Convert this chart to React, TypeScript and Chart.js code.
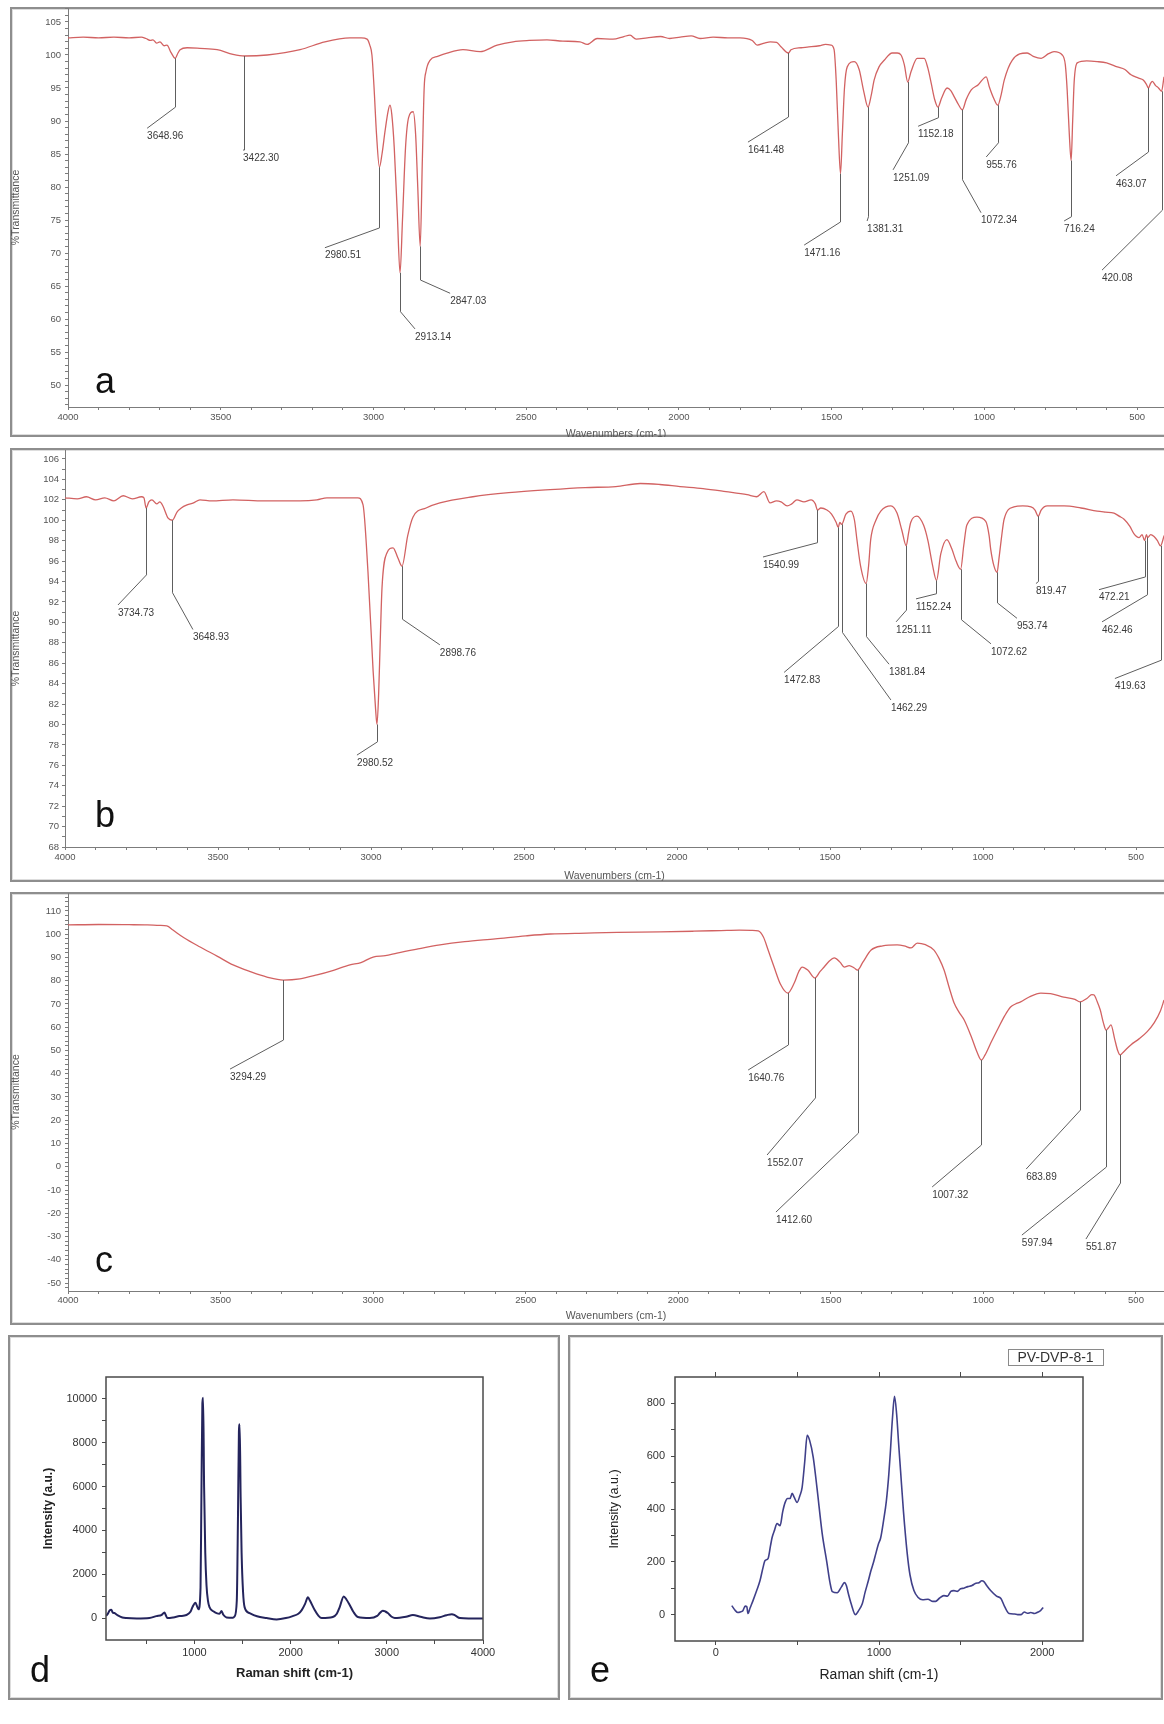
import React, { useEffect, useRef } from "react";
import { Chart, registerables } from "chart.js";

Chart.register(...registerables);
const FONT = '"Liberation Sans", Arial, Helvetica, sans-serif';
Chart.defaults.font.family = FONT;

// ---------------- Panel a (FTIR) ----------------
const A_WN = [4000,3950,3900,3850,3800,3760,3745,3730,3722,3710,3699,3685,3676,3663,3649,3640,3633,3610,3568,3512,3460,3422,3348,3240,3159,3077,3040,3021,3012,3005,2998,2990,2980.5,2972,2962,2952,2946,2940,2932,2922,2913,2905,2895,2885,2870,2862,2855,2847,2840,2834,2828,2815,2790,2759,2707,2651,2595,2543,2490,2432,2380,2324,2300,2268,2216,2180,2160,2140,2104,2060,2030,1996,1960,1931,1888,1840,1800,1760,1744,1720,1701,1680,1665,1641.5,1633,1600,1580,1540,1520,1502,1492,1485,1478,1471,1465,1458,1449,1426,1410,1395,1381,1370,1361,1345,1328,1302,1285,1273,1262,1251,1240,1220,1197,1185,1174,1163,1152,1140,1122,1110,1099,1085,1072,1060,1043,1020,994,984,970,956,945,935,909,860,840,814,790,772,745,735,729,722,716,711,706,696,665,631,600,565,540,520,495,480,470,463,456,450,440,430,420,412];
const A_T = [102.6,102.7,102.6,102.7,102.6,102.7,102.5,102.2,102.3,101.8,102.0,101.4,101.5,100.4,99.5,100.3,100.8,101.1,101.0,100.8,100.1,99.85,100.0,100.8,102.0,102.6,102.6,102.4,101.5,100,95,88,83,85,88.5,91.5,92.4,91,86,76,67,75,86,90.5,91.4,88,80,71,84,95,97.5,99.2,99.8,100.3,100.8,100.5,101.5,102.0,102.2,102.3,102.1,102.0,101.6,102.5,102.4,102.8,103.0,102.4,102.6,102.8,102.5,102.7,102.9,102.5,102.7,102.6,102.6,102.2,101.5,101.8,102.0,101.9,101.2,100.3,100.8,101.1,101.2,101.4,101.6,101.5,100.8,96,88,82,88,95,98.2,99,97.8,94.5,92.1,94,96.2,98.2,99.2,100.3,100.3,100.0,98.5,95.9,97.5,99.5,99.5,98,95.7,93.3,92.1,93.5,95.0,94.6,93.7,92.5,91.7,93.2,94.7,95.5,96.7,95.2,93.5,92.4,94,96.2,99.2,100.3,99.8,99.5,100.2,100.5,100,98.5,94.7,88,84,90,96,98.8,99.1,99.0,98.8,98.2,97.8,97.0,96.5,96.2,95.6,95.0,95.7,96.0,95.4,95,94.5,96.7];
const A_YLABELS = [105,100,95,90,85,80,75,70,65,60,55,50];
// [label, %T at peak, %T at knee, wavenumber at label, %T at label]
const A_PEAKS: [string, number, number, number, number][] = [
  ["3648.96", 99.5, 92.1, 3741, 88.9],
  ["3422.30", 99.85, 85.6, 3427, 85.6],
  ["2980.51", 83, 73.8, 3159, 70.8],
  ["2913.14", 67, 61.1, 2864, 58.5],
  ["2847.03", 71, 65.9, 2749, 63.9],
  ["1641.48", 100.3, 90.6, 1774, 86.8],
  ["1471.16", 82, 74.7, 1590, 71.2],
  ["1381.31", 92.1, 75.5, 1384, 74.85],
  ["1251.09", 95.9, 86.7, 1299, 82.6],
  ["1152.18", 92.1, 90.5, 1217, 89.2],
  ["1072.34", 91.7, 81.1, 1011, 76.1],
  ["955.76", 92.4, 86.7, 994, 84.55],
  ["716.24", 84, 75.5, 739, 74.85],
  ["463.07", 95, 85.3, 569, 81.7],
  ["420.08", 94.5, 76.5, 615, 67.4],
];

// ---------------- Panel b (FTIR) ----------------
const B_WN = [4000,3960,3930,3900,3870,3840,3810,3780,3750,3742,3735,3726,3716,3700,3690,3680,3663,3649,3634,3620,3601,3580,3559,3520,3451,3350,3232,3177,3144,3043,3026,3010,2993,2985,2980.5,2975,2970,2964,2948,2928,2912,2898.8,2880,2863,2820,2775,2667,2550,2415,2300,2200,2120,2056,1990,1915,1840,1771,1740,1716,1696,1675,1660,1640,1625,1608,1585,1562,1548,1541,1530,1510,1495,1480,1473,1468,1462,1448,1432,1420,1412,1400,1382,1374,1367,1350,1334,1301,1281,1265,1251,1243,1236,1216,1194,1180,1165,1152,1138,1118,1102,1088,1073,1063,1053,1020,991,980,975,964,954,948,940,931,899,870,843,830,819.5,810,790,735,680,627,600,572,555,539,520,507,490,480,472,466,462,452,441,430,420,408];
const B_T = [102.2,102.1,102.3,102.0,102.2,101.9,102.4,102.1,102.3,102.2,101.2,101.8,102.0,101.6,101.8,101.4,100.2,100.0,100.8,101.2,101.5,101.7,102.0,101.9,102.0,101.9,101.9,102.0,102.2,102.2,101.5,95,85.2,81.5,80,83,88,93.4,96.8,97.3,96.3,95.5,98.5,100.3,101.2,101.7,102.3,102.7,103,103.2,103.3,103.6,103.5,103.3,103.1,102.8,102.5,102.3,102.8,101.7,101.9,101.8,101.4,101.6,102.0,101.8,102.0,101.6,101.0,101.2,101.0,100.6,99.8,99.3,99.8,99.6,100.6,100.9,100,98.1,95.5,93.8,95.5,98.1,100,100.9,101.4,100.7,99,97.5,98.8,99.8,100.4,99.5,98,95.6,94.1,96.7,98.1,97.2,96,95.2,97.5,99.5,100.3,99.9,98.5,97.2,95.5,94.9,96.2,98.2,100.1,101.3,101.4,101.3,101,100.4,101,101.4,101.4,101.2,100.9,100.8,100.7,100.4,100.1,99.4,98.7,98.3,98.6,98.0,98.6,98.3,98.6,98.4,98,97.5,98.5];
const B_YLABELS = [106,104,102,100,98,96,94,92,90,88,86,84,82,80,78,76,74,72,70,68];
const B_PEAKS: [string, number, number, number, number][] = [
  ["3734.73", 101.2, 94.65, 3827, 91.7],
  ["3648.93", 100, 92.9, 3582, 89.3],
  ["2980.52", 80, 78.3, 3046, 77.0],
  ["2898.76", 95.5, 90.3, 2775, 87.8],
  ["1540.99", 101, 97.8, 1719, 96.4],
  ["1472.83", 99.3, 89.6, 1650, 85.1],
  ["1462.29", 99.6, 89.0, 1301, 82.4],
  ["1381.84", 93.8, 88.6, 1307, 85.9],
  ["1251.11", 97.5, 91.2, 1284, 90.05],
  ["1152.24", 94.1, 92.8, 1219, 92.3],
  ["1072.62", 95.2, 90.25, 974, 87.9],
  ["953.74", 94.9, 91.9, 889, 90.4],
  ["819.47", 100.4, 94.0, 827, 93.8],
  ["472.21", 98.0, 94.45, 621, 93.2],
  ["462.46", 98.3, 92.7, 611, 90.05],
  ["419.63", 97.5, 86.3, 569, 84.5],
];

// ---------------- Panel c (FTIR) ----------------
const C_WN = [4000,3900,3800,3740,3700,3676,3656,3620,3567,3510,3459,3400,3348,3294,3240,3184,3130,3076,3040,3000,2960,2922,2860,2781,2700,2600,2500,2420,2300,2200,2060,1950,1860,1800,1760,1738,1721,1705,1686,1665,1641,1620,1605,1594,1575,1552,1535,1522,1505,1489,1470,1456,1440,1423,1412.6,1395,1368,1330,1283,1260,1237,1217,1190,1162,1145,1129,1112,1096,1080,1063,1040,1020,1007,995,976,950,930,911,895,878,850,812,780,737,700,684,660,645,638,627,617,607,598,590,582,570,560,552,540,517,490,464,440,420,408];
const C_T = [104,104.2,104.1,104,103.8,103.6,101.8,98.5,94.5,90.5,86.8,83.8,81.6,80.3,80.8,82.5,84.5,86.8,87.8,90.2,90.8,91.9,93.5,95.4,96.8,98,99.3,100.1,100.5,100.8,101,101.3,101.6,101.8,101.7,101.4,98.8,93,85.9,78.5,74.7,79,84,85.9,84.5,81.2,84,85.9,88.5,89.8,88,85.9,86.5,85.5,84.6,88,93.2,95,95.4,95,94.1,96.2,95.5,93.2,89.5,84.6,77,70.4,66.5,63.1,56,49,45.9,48,53.2,60,65,68.7,70,70.9,73,74.7,74.5,73,72,70.9,72.5,74,73.9,71,67.4,62,58.8,59.8,61,55,50,48.1,49.5,52.4,55,58,62,67,71.7];
const C_YLABELS = [110,100,90,80,70,60,50,40,30,20,10,0,-10,-20,-30,-40,-50];
const C_PEAKS: [string, number, number, number, number][] = [
  ["3294.29", 80.3, 54.5, 3469, 42.0],
  ["1640.76", 74.7, 52.4, 1771, 41.6],
  ["1552.07", 81.2, 29.6, 1709, 5.05],
  ["1412.60", 84.6, 14.5, 1680, -19.5],
  ["1007.32", 45.9, 9.35, 1168, -8.7],
  ["683.89", 70.9, 24.4, 860, -1.0],
  ["597.94", 58.8, -0.1, 874, -29.4],
  ["551.87", 48.1, -7, 664, -31.1],
];

const FTIR_XLABELS = [4000, 3500, 3000, 2500, 2000, 1500, 1000, 500];

// ---------------- Panel d (Raman) ----------------
const D_SHIFT = [80,100,118,135,150,167,198,250,292,400,531,604,660,688,700,719,780,844,917,960,979,1010,1030,1042,1063,1072,1082,1090,1100,1112,1125,1140,1156,1200,1229,1260,1281,1300,1333,1400,1417,1440,1452,1462,1470,1480,1490,1505,1521,1573,1650,1750,1854,1950,2021,2080,2115,2150,2180,2200,2250,2290,2323,2438,2480,2510,2552,2580,2615,2650,2698,2823,2900,2927,2958,2985,3010,3050,3083,3200,3271,3350,3448,3550,3620,3677,3710,3760,3850,4000];
const D_INT = [100,200,350,380,250,230,140,30,0,-20,0,90,150,260,150,0,30,90,140,300,500,700,500,400,1400,5500,9800,10050,6000,3000,1500,800,500,300,228,200,320,150,30,20,80,800,4500,8500,8840,5500,2970,1200,500,228,80,0,-60,0,91,200,365,650,950,800,365,100,0,50,200,500,990,850,590,300,50,0,100,228,340,300,228,60,0,60,137,60,-20,40,130,180,120,0,-20,-20];
const D_XLABELS = [1000, 2000, 3000, 4000];
const D_YLABELS = [0, 2000, 4000, 6000, 8000, 10000];

// ---------------- Panel e (Raman) ----------------
const E_SHIFT = [98,120,135,150,166,180,190,197,210,228,250,271,290,302,320,335,345,360,375,394,410,425,440,455,468,480,498,515,529,545,560,575,597,620,652,680,700,714,744,770,788,800,812,830,855,875,898,915,935,950,966,980,997,1010,1028,1045,1060,1069,1082,1095,1108,1120,1132,1150,1173,1190,1214,1240,1267,1300,1330,1347,1370,1397,1420,1440,1459,1480,1500,1520,1544,1570,1590,1612,1630,1643,1660,1684,1720,1747,1770,1797,1830,1850,1871,1890,1910,1930,1953,1975,1990,2006];
const E_INT = [34,15,8,10,15,32,30,4,25,53,90,129,180,205,212,260,292,320,345,337,390,425,440,440,459,445,425,450,482,580,679,660,596,480,307,200,120,87,83,105,121,110,80,40,0,15,42,85,129,165,197,230,268,290,356,430,530,610,740,827,760,650,546,390,231,150,91,65,56,58,50,50,62,72,70,88,91,88,98,100,106,110,118,121,128,125,110,91,70,61,30,4,2,0,0,10,5,8,4,10,15,27];
const E_XLABELS = [0, 1000, 2000];
const E_YLABELS = [0, 200, 400, 600, 800];
const E_SAMPLE = "PV-DVP-8-1";

// ---------------- styling / helpers ----------------
const FTIR_LINE = "#d26262";
const AXIS_GRAY = "#7c7c7c";
const TEXT_GRAY = "#555555";

function range(a: number, b: number, step: number) {
  const out: number[] = [];
  const n = Math.round((b - a) / step);
  for (let i = 0; i <= n; i++) out.push(Math.round((a + i * step) * 1000) / 1000);
  return out;
}

function zeroPad(s: any) {
  s.paddingLeft = 0; s.paddingRight = 0; s.paddingTop = 0; s.paddingBottom = 0;
}

function peakPlugin(items: [string, number, number, number, number][]) {
  return {
    id: "peakLabels",
    afterDatasetsDraw(chart: any) {
      const { ctx } = chart;
      const x = chart.scales.x, y = chart.scales.y;
      ctx.save();
      ctx.strokeStyle = "#5e5e5e";
      ctx.lineWidth = 1;
      ctx.fillStyle = "#3a3a3a";
      ctx.font = `10px ${FONT}`;
      ctx.textAlign = "left";
      ctx.textBaseline = "top";
      for (const [label, pt, kt, ew, et] of items) {
        const wn = parseFloat(label);
        const px = Math.round(x.getPixelForValue(wn)) + 0.5;
        const ex = x.getPixelForValue(ew);
        const ey = y.getPixelForValue(et);
        ctx.beginPath();
        ctx.moveTo(px, y.getPixelForValue(pt));
        ctx.lineTo(px, y.getPixelForValue(kt));
        ctx.lineTo(ex, ey);
        ctx.stroke();
        ctx.fillText(label, ex, ey + 3);
      }
      ctx.restore();
    },
  };
}

function decorPlugin(d: { texts: any[]; frame?: boolean; box?: any }) {
  return {
    id: "decor",
    afterDraw(chart: any) {
      const ctx = chart.ctx;
      ctx.save();
      if (d.frame) {
        const a = chart.chartArea;
        ctx.strokeStyle = "#4a4a4a";
        ctx.lineWidth = 1.5;
        ctx.strokeRect(a.left, a.top, a.right - a.left, a.bottom - a.top);
      }
      if (d.box) {
        ctx.strokeStyle = "#8a8a8a";
        ctx.lineWidth = 1;
        ctx.strokeRect(d.box.x + 0.5, d.box.y + 0.5, d.box.w, d.box.h);
      }
      for (const t of d.texts) {
        ctx.font = t.font;
        ctx.fillStyle = t.color;
        ctx.textAlign = t.align || "left";
        ctx.textBaseline = t.baseline || "alphabetic";
        ctx.fillText(t.text, t.x, t.y);
      }
      ctx.restore();
    },
  };
}

function ftirConfig(p: any) {
  return {
    type: "line",
    data: {
      datasets: [{
        data: p.wn.map((w: number, i: number) => ({ x: w, y: p.t[i] })),
        borderColor: FTIR_LINE, borderWidth: 1.3, pointRadius: 0, fill: false,
        cubicInterpolationMode: "monotone",
      }],
    },
    options: {
      animation: false, responsive: false, events: [],
      layout: { padding: { left: 0, right: 0, top: p.padTop, bottom: 0 } },
      plugins: { legend: { display: false }, tooltip: { enabled: false } },
      scales: {
        x: {
          type: "linear", reverse: true, min: p.xMin, max: 4000,
          afterBuildTicks: (s: any) => { s.ticks = range(500, 4000, 100).map((v) => ({ value: v })); },
          afterFit: (s: any) => { s.height = p.xAxisH; zeroPad(s); },
          ticks: {
            autoSkip: false, maxRotation: 0, padding: p.xTickPad, color: TEXT_GRAY, font: { size: 9.5 },
            callback: (v: number) => (FTIR_XLABELS.includes(v) ? String(v) : ""),
          },
          grid: { drawOnChartArea: false, tickLength: 3, tickColor: AXIS_GRAY, tickWidth: 1 },
          border: { color: AXIS_GRAY, width: 1 },
          title: { display: true, text: "Wavenumbers (cm-1)", color: TEXT_GRAY, font: { size: 10.5 }, padding: { top: 0, bottom: p.titlePad } },
        },
        y: {
          type: "linear", min: p.yMin, max: p.yMax,
          afterBuildTicks: (s: any) => { s.ticks = p.yMinor.map((v: number) => ({ value: v })); },
          afterFit: (s: any) => { s.width = p.yAxisW; zeroPad(s); },
          ticks: {
            autoSkip: false, padding: p.yTickPad, color: TEXT_GRAY, font: { size: 9.5 },
            callback: (v: number) => (p.yLabels.includes(v) ? String(v) : ""),
          },
          grid: { drawOnChartArea: false, tickLength: 3, tickColor: AXIS_GRAY, tickWidth: 1 },
          border: { color: AXIS_GRAY, width: 1, dash: [2, 2] },
          title: { display: true, text: "%Transmittance", color: TEXT_GRAY, font: { size: 10.5 }, padding: { top: 0, bottom: 0 } },
        },
      },
    },
    plugins: [
      peakPlugin(p.peaks),
      decorPlugin({ texts: [{ text: p.letter, x: p.letterX, y: p.letterY, font: `36px ${FONT}`, color: "#111" }] }),
    ],
  };
}

function ramanConfig(p: any) {
  const scales: any = {
    x: {
      type: "linear", min: p.xMin, max: p.xMax,
      afterBuildTicks: (s: any) => { s.ticks = p.xTicks.map((v: number) => ({ value: v })); },
      afterFit: (s: any) => { s.height = p.xAxisH; zeroPad(s); },
      ticks: {
        autoSkip: false, maxRotation: 0, padding: p.xTickPad, color: "#333", font: { size: 11 },
        callback: (v: number) => (p.xLabels.includes(v) ? String(v) : ""),
      },
      grid: { drawOnChartArea: false, tickLength: 4, tickColor: "#4a4a4a", tickWidth: 1 },
      border: { display: false },
      title: { display: true, text: "Raman shift (cm-1)", color: "#222", font: p.xTitleFont, padding: { top: 0, bottom: p.xTitlePad } },
    },
    y: {
      type: "linear", min: p.yMin, max: p.yMax,
      afterBuildTicks: (s: any) => { s.ticks = p.yTicks.map((v: number) => ({ value: v })); },
      afterFit: (s: any) => { s.width = p.yAxisW; zeroPad(s); },
      ticks: {
        autoSkip: false, padding: p.yTickPad, color: "#333", font: { size: 11 },
        callback: (v: number) => (p.yLabels.includes(v) ? String(v) : ""),
      },
      grid: { drawOnChartArea: false, tickLength: 4, tickColor: "#4a4a4a", tickWidth: 1 },
      border: { display: false },
      title: { display: true, text: "Intensity (a.u.)", color: "#222", font: p.yTitleFont, padding: { top: p.yTitlePad, bottom: 0 } },
    },
  };
  if (p.topTicks) {
    scales.x2 = {
      type: "linear", position: "top", min: p.xMin, max: p.xMax,
      afterBuildTicks: (s: any) => { s.ticks = p.topTicks.map((v: number) => ({ value: v })); },
      afterFit: (s: any) => { s.height = 5; zeroPad(s); },
      ticks: { display: false },
      grid: { drawOnChartArea: false, tickLength: 5, tickColor: "#4a4a4a", tickWidth: 1 },
      border: { display: false },
    };
  }
  return {
    type: "line",
    data: {
      datasets: [{
        data: p.xs.map((w: number, i: number) => ({ x: w, y: p.ys[i] })),
        borderColor: p.color, borderWidth: p.lineWidth, pointRadius: 0, fill: false,
        cubicInterpolationMode: "monotone",
      }],
    },
    options: {
      animation: false, responsive: false, events: [],
      layout: { padding: { left: 0, right: p.padRight, top: p.padTop, bottom: 0 } },
      plugins: { legend: { display: false }, tooltip: { enabled: false } },
      scales,
    },
    plugins: [decorPlugin({ frame: true, box: p.box, texts: p.texts })],
  };
}

// ---------------- layout (page pixels) ----------------
const A_RECT = [10, 7, 1154, 430];
const B_RECT = [10, 448, 1154, 434];
const C_RECT = [10, 892, 1154, 433];
const D_RECT = [8, 1335, 552, 365];
const E_RECT = [568, 1335, 595, 365];
const FRAMES = [
  [10, 7, 1160, 430],
  [10, 448, 1160, 434],
  [10, 892, 1160, 433],
  [8, 1335, 552, 365],
  [568, 1335, 595, 365],
];

function ChartCanvas({ rect, make }: { rect: number[]; make: () => any }) {
  const ref = useRef<HTMLCanvasElement>(null);
  useEffect(() => {
    const chart = new Chart(ref.current as HTMLCanvasElement, make());
    return () => chart.destroy();
  }, []);
  return (
    <canvas
      ref={ref}
      width={rect[2]}
      height={rect[3]}
      style={{ position: "absolute", left: rect[0], top: rect[1], width: rect[2], height: rect[3] }}
    />
  );
}

export default function App() {
  return (
    <div style={{ position: "absolute", left: 0, top: 0, width: 1164, height: 1724, overflow: "hidden", background: "#fff" }}>
      {FRAMES.map((f, i) => (
        <div
          key={i}
          style={{
            position: "absolute", left: f[0], top: f[1], width: f[2], height: f[3],
            border: "2px solid #8e8e8e", boxSizing: "border-box", boxShadow: "inset 0 0 0 1px #dddddd",
          }}
        />
      ))}
      <ChartCanvas
        rect={A_RECT}
        make={() => ftirConfig({
          wn: A_WN, t: A_T, xMin: 412, yMin: 46.67, yMax: 107.12, yLabels: A_YLABELS, yMinor: range(47, 107, 1),
          peaks: A_PEAKS, yAxisW: 58, padTop: 1, xAxisH: 30, xTickPad: 2, yTickPad: 4, titlePad: -3,
          letter: "a", letterX: 95 - A_RECT[0], letterY: 393 - A_RECT[1],
        })}
      />
      <ChartCanvas
        rect={B_RECT}
        make={() => ftirConfig({
          wn: B_WN, t: B_T, xMin: 408.5, yMin: 68.0, yMax: 106.88, yLabels: B_YLABELS, yMinor: range(68, 106, 1),
          peaks: B_PEAKS, yAxisW: 55, padTop: 2, xAxisH: 35, xTickPad: 1.6, yTickPad: 3, titlePad: 0,
          letter: "b", letterX: 95 - B_RECT[0], letterY: 827 - B_RECT[1],
        })}
      />
      <ChartCanvas
        rect={C_RECT}
        make={() => ftirConfig({
          wn: C_WN, t: C_T, xMin: 408.2, yMin: -53.44, yMax: 117.74, yLabels: C_YLABELS, yMinor: range(-52, 116, 2),
          peaks: C_PEAKS, yAxisW: 58, padTop: 1, xAxisH: 34, xTickPad: 0.6, yTickPad: 4, titlePad: 3,
          letter: "c", letterX: 95 - C_RECT[0], letterY: 1272 - C_RECT[1],
        })}
      />
      <ChartCanvas
        rect={D_RECT}
        make={() => ramanConfig({
          xs: D_SHIFT, ys: D_INT, color: "#24245c", lineWidth: 2,
          xMin: 80, xMax: 4000, yMin: -1000, yMax: 11000,
          xTicks: range(500, 4000, 500), xLabels: D_XLABELS, yTicks: range(0, 10000, 1000), yLabels: D_YLABELS,
          yAxisW: 98, padTop: 42, padRight: 77, xAxisH: 60, xTickPad: 2.5, yTickPad: 5,
          xTitleFont: { size: 13, weight: "bold" }, xTitlePad: 19,
          yTitleFont: { size: 12, weight: "bold" }, yTitlePad: 33,
          texts: [{ text: "d", x: 30 - D_RECT[0], y: 1682 - D_RECT[1], font: `36px ${FONT}`, color: "#111" }],
        })}
      />
      <ChartCanvas
        rect={E_RECT}
        make={() => ramanConfig({
          xs: E_SHIFT, ys: E_INT, color: "#40408a", lineWidth: 1.6,
          xMin: -250, xMax: 2250, yMin: -100, yMax: 900,
          xTicks: range(0, 2000, 500), xLabels: E_XLABELS, yTicks: range(0, 800, 100), yLabels: E_YLABELS,
          topTicks: range(0, 2000, 500),
          yAxisW: 107, padTop: 37, padRight: 80, xAxisH: 59, xTickPad: 1.5, yTickPad: 6,
          xTitleFont: { size: 14 }, xTitlePad: 16.6,
          yTitleFont: { size: 12.5 }, yTitlePad: 39.5,
          box: { x: 1008 - E_RECT[0], y: 1349 - E_RECT[1], w: 95, h: 16 },
          texts: [
            { text: "e", x: 590 - E_RECT[0], y: 1682 - E_RECT[1], font: `36px ${FONT}`, color: "#111" },
            { text: E_SAMPLE, x: 1055.5 - E_RECT[0], y: 1358 - E_RECT[1], font: `14px ${FONT}`, color: "#333", align: "center", baseline: "middle" },
          ],
        })}
      />
    </div>
  );
}
